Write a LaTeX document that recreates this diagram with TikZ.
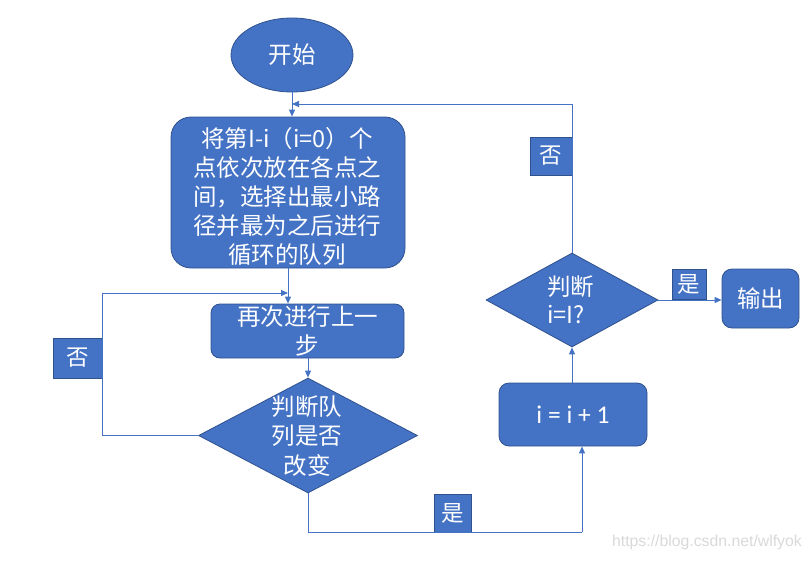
\documentclass[tikz,border=0pt]{standalone}
\usepackage{fontspec}
\setmainfont{Carlito}
\newfontfamily\cjk{Noto Sans CJK SC}
\usetikzlibrary{shapes.geometric,arrows.meta}
\definecolor{bfill}{HTML}{4472C4}
\definecolor{bdraw}{HTML}{2F528F}
\definecolor{wm}{HTML}{D9D9D9}
\tikzset{
  x=1pt,y=-1pt,
  blk/.style={fill=bfill,draw=bdraw,line width=0.8pt,text=white,inner sep=0pt,align=center,font=\cjk\fontsize{23.5}{30}\selectfont},
  rbox/.style={blk,rectangle,rounded corners=12pt},
  lbl/.style={blk,rectangle,font=\cjk\fontsize{22.5}{26}\selectfont},
  dia/.style={blk,diamond},
  conn/.style={draw=bfill,line width=0.9pt,-{Triangle[length=7pt,width=6pt]}},
  plain/.style={draw=bfill,line width=0.9pt},
}
\begin{document}
\begin{tikzpicture}
\useasboundingbox (0,0) rectangle (811,560);
% nodes
\node[blk,ellipse,minimum width=122pt,minimum height=74pt,font=\cjk\fontsize{23.5}{28}\selectfont] (start) at (292,55) {开始};
\node[rbox,rounded corners=20pt,minimum width=234pt,minimum height=151pt] (big) at (288,192.5) {};
\node[text=white,align=center,inner sep=0pt,font=\cjk\fontsize{23.5}{29}\selectfont] (bigt) at (287,196) {将第I-i（i=0）个\\点依次放在各点之\\间，选择出最小路\\径并最为之后进行\\循环的队列};
\node[rbox,rounded corners=9pt,minimum width=193pt,minimum height=54pt,font=\cjk\fontsize{23.5}{29}\selectfont] (again) at (307.5,331) {再次进行上一\\步};
\node[dia,minimum width=219pt,minimum height=115pt] (d1) at (308,435.5) {};
\node[text=white,align=center,inner sep=0pt,font=\cjk\fontsize{23.5}{29.5}\selectfont] (d1t) at (307,436) {判断队\\列是否\\改变};
\node[rbox,rounded corners=10pt,minimum width=148pt,minimum height=63pt,font=\fontsize{25.5}{28}\selectfont] (inc) at (573,414.5) {i = i + 1};
\node[dia,minimum width=172pt,minimum height=94pt] (d2) at (572,300) {};
\node[text=white,align=left,inner sep=0pt,anchor=west,font=\cjk\fontsize{23.5}{28.5}\selectfont] (d2t) at (547,300) {判断\\i=I?};
\node[rbox,rounded corners=10pt,minimum width=77pt,minimum height=59pt,font=\cjk\fontsize{23.5}{28}\selectfont] (out) at (760.5,298.5) {输出};
% labels
\node[lbl,minimum width=49pt,minimum height=40pt] (no1) at (77.5,358) {否};
\node[lbl,minimum width=42pt,minimum height=38pt] (no2) at (551,156) {否};
\node[lbl,minimum width=34pt,minimum height=30pt] (yes1) at (689,284) {是};
\node[lbl,minimum width=37pt,minimum height=38pt] (yes2) at (452.5,513) {是};
% coordinates
\coordinate (la) at (102,435.5);
\coordinate (lb) at (102,293);
\coordinate (ta) at (572,104);
\coordinate (tb) at (292,104);
\coordinate (ba) at (308,532);
\coordinate (bb) at (582,532);
% connectors
\draw[conn] (start.south) -- (start.south |- big.north);
\draw[conn] (big.south) -- (big.south |- again.north);
\draw[conn] (again.south -| d1.north) -- (d1.north);
\draw[conn] (d1.west) -- (la) -- (lb) -- (lb -| big.south);
\draw[plain] (d1.south) -- (ba) -- (bb);
\draw[conn] (bb) -- (bb |- inc.south);
\draw[conn] (inc.north -| d2.south) -- (d2.south);
\draw[conn] (d2.north) -- (ta) -- (tb);
\draw[conn] (d2.east) -- (d2.east -| out.west);
% watermark
\node[text=wm,font=\fontspec{Liberation Sans}\fontsize{15.8}{18}\selectfont,anchor=east,inner sep=0pt] (wmk) at (802,542) {https://blog.csdn.net/wlfyok};
\end{tikzpicture}
\end{document}
